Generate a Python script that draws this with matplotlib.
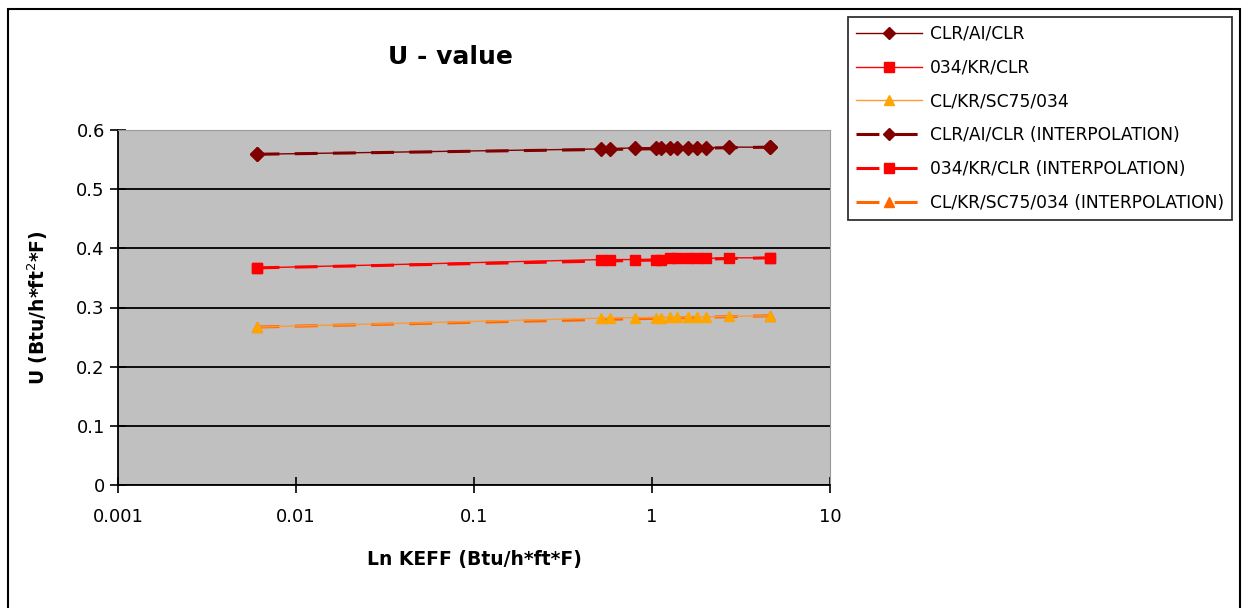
import matplotlib
matplotlib.use("Agg")
import matplotlib.pyplot as plt
from matplotlib.lines import Line2D

plt.rcParams['font.family'] = ['DejaVu Sans']

# datos
keff = [0.006, 0.52, 0.58, 0.8, 1.05, 1.13, 1.27, 1.38, 1.6, 1.8, 2.0, 2.7, 4.6]
u_clr_ai = [0.559, 0.568, 0.568, 0.570, 0.570, 0.570, 0.570, 0.570, 0.570, 0.570, 0.570, 0.571, 0.571]
u_034_kr = [0.367, 0.381, 0.381, 0.381, 0.381, 0.381, 0.383, 0.383, 0.383, 0.383, 0.383, 0.384, 0.384]
u_cl_kr_sc = [0.267, 0.282, 0.282, 0.283, 0.283, 0.283, 0.284, 0.284, 0.284, 0.284, 0.284, 0.285, 0.286]

keff_interp = [0.006, 4.6]
u_clr_ai_interp = [0.559, 0.571]
u_034_kr_interp = [0.367, 0.384]
u_cl_kr_sc_interp = [0.267, 0.286]

nombres = ["CLR/AI/CLR", "034/KR/CLR", "CL/KR/SC75/034",
           "CLR/AI/CLR (INTERPOLATION)", "034/KR/CLR (INTERPOLATION)",
           "CL/KR/SC75/034 (INTERPOLATION)"]

rayas = (0, (7.5, 5))

fig = plt.figure(figsize=(12.43, 6.08), dpi=100)
ax = fig.add_axes([118/1243, 1-485/608, 712/1243, 355/608])
ax.set_facecolor("#c0c0c0")

# series medidas (linea fina)
ax.plot(keff, u_clr_ai, color="#800000", lw=1, marker="D", ms=7, mfc="#800000", mec="#800000", zorder=4)
ax.plot(keff, u_034_kr, color="#ff0000", lw=1, marker="s", ms=7, mfc="#ff0000", mec="#ff0000", zorder=4)
ax.plot(keff, u_cl_kr_sc, color="#ff9933", lw=1, marker="^", ms=7.5, mfc="#ffa500", mec="#ffa500", zorder=4)

# interpolaciones (linea gruesa discontinua)
ax.plot(keff_interp, u_clr_ai_interp, color="#800000", lw=2.2, ls=rayas, marker="D", ms=7, zorder=3)
ax.plot(keff_interp, u_034_kr_interp, color="#ff0000", lw=2.2, ls=rayas, marker="s", ms=7, zorder=3)
ax.plot(keff_interp, u_cl_kr_sc_interp, color="#ff6600", lw=2.2, ls=rayas, marker="^", ms=7.5, zorder=3)

ax.set_xscale("log")
ax.set_xlim(0.001, 10)
ax.set_ylim(0, 0.6)
ax.set_xticks([0.001, 0.01, 0.1, 1, 10])
ax.set_xticklabels(["0.001", "0.01", "0.1", "1", "10"])
ax.set_yticks([0, 0.1, 0.2, 0.3, 0.4, 0.5, 0.6])
ax.set_yticklabels(["0", "0.1", "0.2", "0.3", "0.4", "0.5", "0.6"])
ax.minorticks_off()
ax.tick_params(axis="both", labelsize=13, direction="inout", length=11, width=1.2, color="black")
ax.tick_params(axis="y", pad=4)
ax.tick_params(axis="x", pad=11)
ax.yaxis.grid(True, color="black", lw=1.3)
ax.set_axisbelow(True)
for lado in ["top", "right"]:
    ax.spines[lado].set_color("#999999")
for lado in ["left", "bottom"]:
    ax.spines[lado].set_color("black")
    ax.spines[lado].set_linewidth(1.3)

ax.set_xlabel("Ln KEFF (Btu/h*ft*F)", fontsize=13.5, fontweight="bold", labelpad=17)
ax.set_ylabel("U (Btu/h*ft$^{2}$*F)", fontsize=13.5, fontweight="bold", labelpad=19)
fig.text(450/1243, 1-57/608, "U - value", fontsize=18, fontweight="bold", ha="center", va="center")

# leyenda
manejadores = [
    Line2D([], [], color="#800000", lw=1, marker="D", ms=6.5),
    Line2D([], [], color="#ff0000", lw=1, marker="s", ms=6.5),
    Line2D([], [], color="#ff9933", lw=1, marker="^", ms=7, mfc="#ffa500", mec="#ffa500"),
    Line2D([], [], color="#800000", lw=2.2, ls=rayas, marker="D", ms=6.5),
    Line2D([], [], color="#ff0000", lw=2.2, ls=rayas, marker="s", ms=6.5),
    Line2D([], [], color="#ff6600", lw=2.2, ls=rayas, marker="^", ms=7),
]
leg = fig.legend(manejadores, nombres, loc="upper left",
                 bbox_to_anchor=(848/1243, 1-17/608), fontsize=12.3,
                 frameon=True, fancybox=False, edgecolor="black",
                 handlelength=3.9, handletextpad=0.45, labelspacing=0.93,
                 borderpad=0.45, borderaxespad=0)
leg.get_frame().set_linewidth(1.3)

# marco exterior
fig.add_artist(plt.Rectangle((8/1243, -0.05), 1232/1243, 1.05 - 9/608, transform=fig.transFigure,
                             fill=False, edgecolor="black", lw=1.5))

fig.savefig("out.png", dpi=100)
